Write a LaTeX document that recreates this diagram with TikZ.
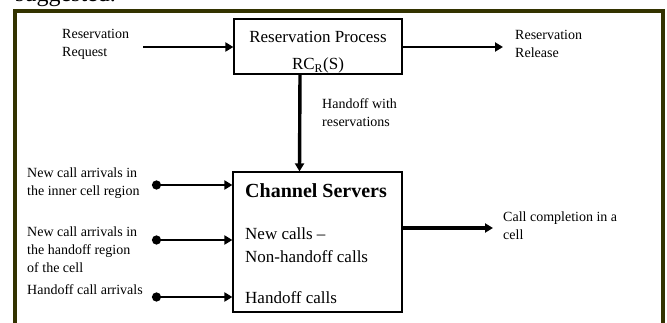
\documentclass[tikz,border=0pt]{standalone}
\usepackage{fontspec}
\setmainfont{Liberation Serif}
\usetikzlibrary{arrows.meta}

\definecolor{framecol}{HTML}{333300}

\tikzset{
    frame/.style={draw=framecol, line width=4pt},
    box/.style={draw, line width=1.2pt, inner sep=0pt},
    boxtxt/.style={inner sep=0pt, font=\fontsize{17}{21}\selectfont},
    lbl/.style={align=left, inner sep=0pt, anchor=west, font=\fontsize{14}{18}\selectfont},
    arr/.style={line width=2.6pt, -{Triangle[length=8pt,width=9pt]}},
    dotarr/.style={line width=2.6pt, {Circle[length=9pt]}-{Triangle[length=8pt,width=9pt]}},
}

\begin{document}
\begin{tikzpicture}[x=1pt,y=-1pt]
    % Fix the size of the picture
    \clip (0,0) rectangle (667,323);

    % Draw the page text and the frame
    \node[anchor=base west, inner sep=0pt, font=\fontsize{24}{28}\selectfont] (pagetxt) at (15,2) {suggested.};
    \draw[frame] (15,11.5) rectangle (663,345);

    % Draw the two boxes
    \node[box, minimum width=168pt, minimum height=55pt] (proc) at (318,46.5) {};
    \node[box, minimum width=169pt, minimum height=140pt] (chan) at (317.5,242) {};

    % Draw the text inside the boxes
    \node[boxtxt, anchor=base] (proctitle) at (318,43) {Reservation Process};
    \node[boxtxt, anchor=base] (procrc) at (318,70) {RC\textsubscript{R}(S)};
    \node[anchor=base west, inner sep=0pt, font=\fontsize{20}{24}\selectfont\bfseries] (chantitle) at (245,198) {Channel Servers};
    \node[boxtxt, anchor=base west] (channew) at (245,240) {New calls --};
    \node[boxtxt, anchor=base west] (channon) at (245,262) {Non-handoff calls};
    \node[boxtxt, anchor=base west] (chanhand) at (245,303) {Handoff calls};

    % Draw the labels outside the boxes
    \node[lbl] (reqlbl) at (62,44) {Reservation\\Request};
    \node[lbl] (rellbl) at (515,44) {Reservation\\Release};
    \node[lbl] (hofflbl) at (322,113) {Handoff with\\reservations};
    \node[lbl] (cmplbl) at (503,226) {Call completion in a\\cell};

    % Draw the arrows of the reservation process
    \coordinate (reqin) at (143,47);
    \coordinate (relout) at (503,47);
    \draw[arr] (reqin) -- (reqin -| proc.west);
    \draw[arr] (relout -| proc.east) -- (relout);
    \draw[arr, line width=3.4pt] ([xshift=-18pt]proc.south) -- ([xshift=-18pt]chan.north);

    % Draw the arrivals into the channel servers
    \foreach \ya/\yl/\name/\txt in {185/183.5/inner/{New call arrivals in\\the inner cell region}, 240/249.5/hreg/{New call arrivals in\\the handoff region\\of the cell}, 297/290/harr/{Handoff call arrivals}} {
        \node[lbl] (\name lbl) at (27,\yl) {\txt};
        \coordinate (\name) at (152,\ya);
        \draw[dotarr] (\name) -- (\name -| chan.west);
    }

    % Draw the call completion arrow
    \coordinate (cmpout) at (493,228);
    \draw[arr, line width=4pt] (cmpout -| chan.east) -- (cmpout);
\end{tikzpicture}
\end{document}
